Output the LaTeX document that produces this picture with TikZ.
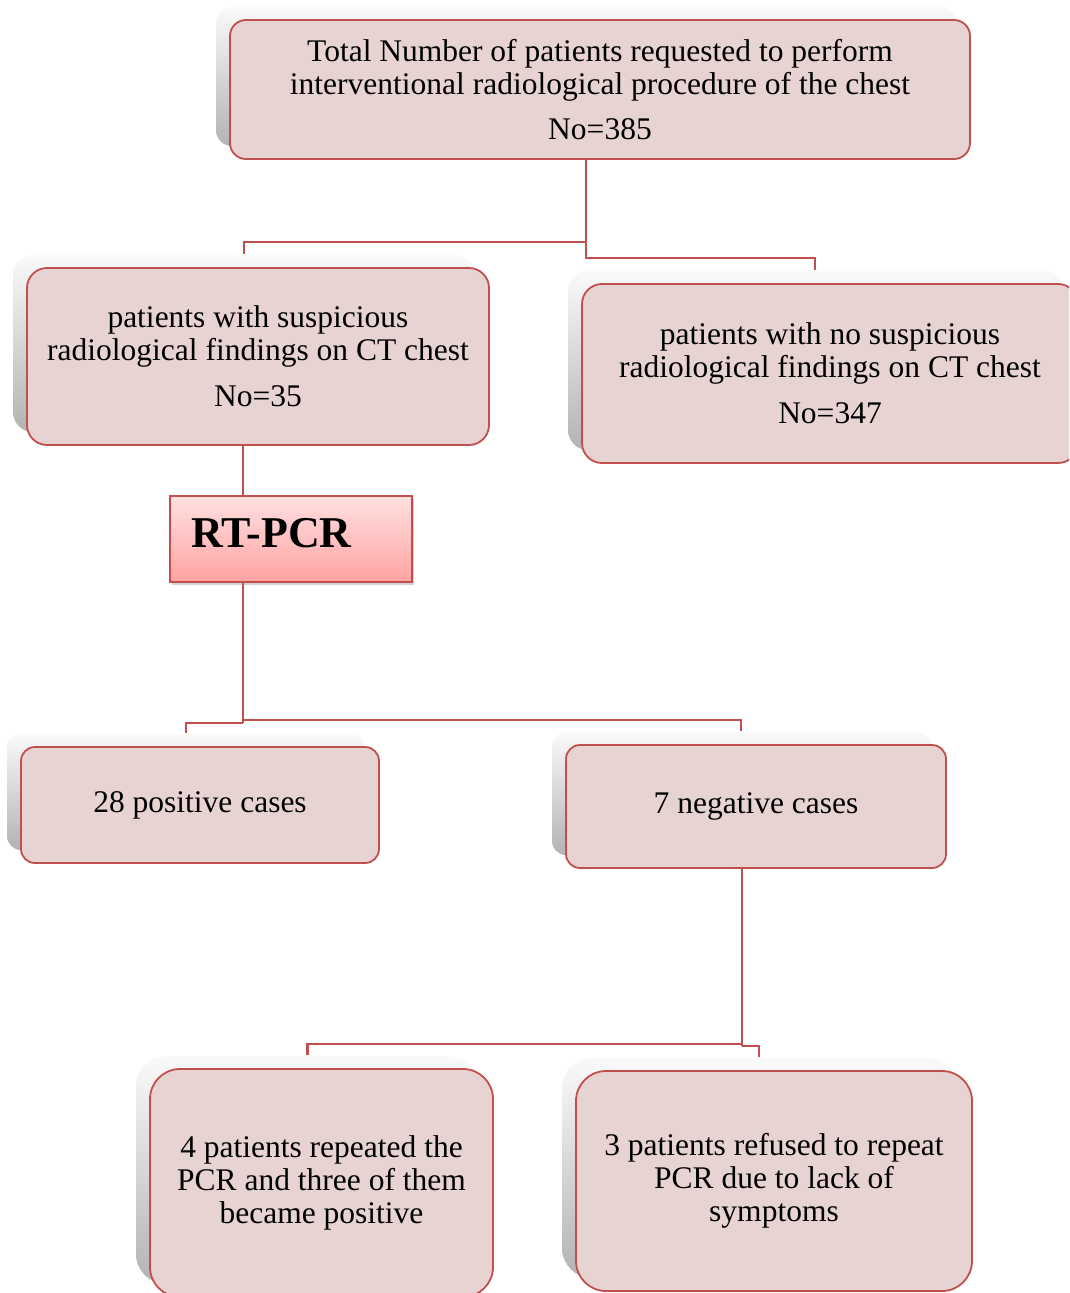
\documentclass[tikz,border=0pt]{standalone}
\usepackage{fontspec}
\setmainfont{Liberation Serif}
\usetikzlibrary{shadows,calc}
\definecolor{bord}{HTML}{C0504D}
\definecolor{boxfill}{HTML}{E8D3D3}
\definecolor{pcrtop}{HTML}{FFE0E0}
\definecolor{pcrbot}{HTML}{FFA2A2}
\tikzset{
  pbox/.style={draw=bord, fill=boxfill, line width=1.8pt, rounded corners=#1,
    align=center, inner sep=0pt, font=\fontsize{31.5}{33}\selectfont,
    general shadow={shadow xshift=-14pt, shadow yshift=13pt, draw=none,
      top color=black!2, bottom color=black!30}},
  conn/.style={draw=bord, line width=2.5pt},
}
\begin{document}
\begin{tikzpicture}[x=1pt,y=-1pt]
\useasboundingbox (0,0) rectangle (1069,1293);
\clip (0,0) rectangle (1069,1293);

\node[pbox=16, minimum width=740, minimum height=139] (top) at (600,89.5)
  {Total Number of patients requested to perform\\interventional radiological procedure of the chest\\[12pt]No=385};
\node[pbox=20, minimum width=462, minimum height=177] (susp) at (258,356.5)
  {patients with suspicious\\radiological findings on CT chest\\[13pt]No=35};
\node[pbox=20, minimum width=496, minimum height=179] (nosusp) at (830,373.5)
  {patients with no suspicious\\radiological findings on CT chest\\[13pt]No=347};
\node[pbox=14, minimum width=358, minimum height=116] (pos) at (200,805)
  {28 positive cases};
\node[pbox=14, minimum width=380, minimum height=123] (neg) at (756,806.5)
  {7 negative cases};
\node[pbox=30, minimum width=343, minimum height=228] (rep) at (321.5,1183)
  {4 patients repeated the\\PCR and three of them\\became positive};
\node[pbox=30, minimum width=396, minimum height=220] (ref) at (774,1181)
  {3 patients refused to repeat\\PCR due to lack of\\symptoms};

% junction points
\coordinate (j1) at (586,242);
\coordinate (j2) at (586,258);
\coordinate (j3l) at (243,723);
\coordinate (j3r) at (243,720);
\coordinate (j4l) at (742,1044);
\coordinate (j4r) at (742,1046);

\draw[conn] ([xshift=-14pt]top.south) -- (j1) -| ([shift={(-14,-13)}]susp.north);
\draw[conn] (j1) -- (j2) -| ([shift={(-15,-13)}]nosusp.north);

\draw[conn] ([xshift=-15pt]susp.south) -- (j3l);

\node[draw=bord, line width=1.5pt, top color=pcrtop, bottom color=pcrbot,
  minimum width=242, minimum height=86, text width=200pt, inner xsep=21pt,
  text depth=12pt, align=left, font=\fontsize{44}{48}\selectfont\bfseries,
  drop shadow={shadow xshift=2pt, shadow yshift=-3pt, opacity=0.35}] (pcr) at (291,539) {RT-PCR};

\draw[conn] (j3l) -| ([shift={(-14,-13)}]pos.north);
\draw[conn] (j3r) -| ([shift={(-15,-13)}]neg.north);

\draw[conn] ([xshift=-14pt]neg.south) -- (j4r);
\draw[conn] (j4l) -| ([shift={(-14,-13)}]rep.north);
\draw[conn] (j4r) -| ([shift={(-15,-13)}]ref.north);
\end{tikzpicture}
\end{document}
